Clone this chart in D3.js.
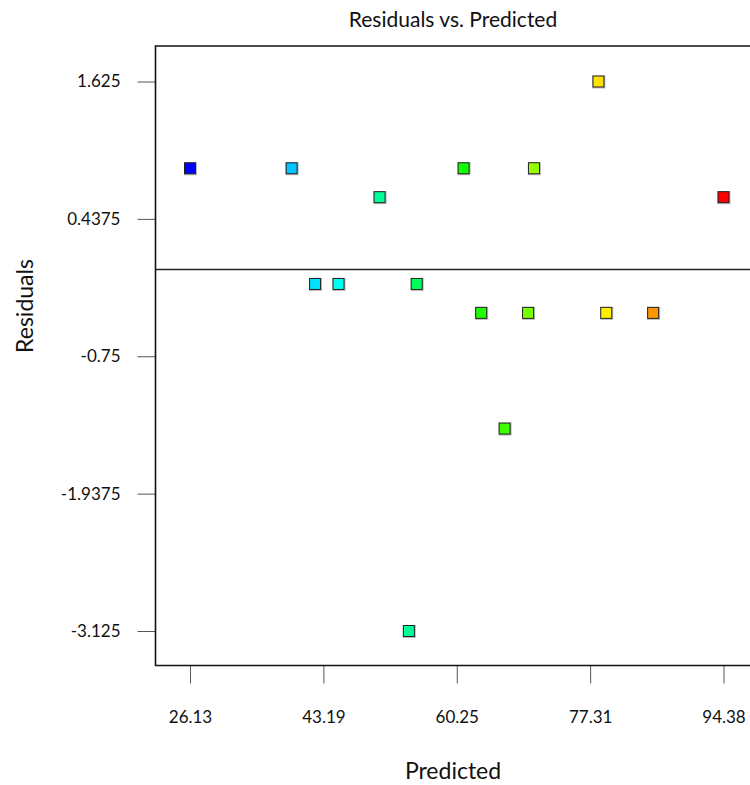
<!DOCTYPE html>
<html>
<head>
<meta charset="utf-8">
<script src="https://cdn.jsdelivr.net/npm/d3@7"></script>
<style>
    body { margin: 0; background: #fff; }
    svg { display: block; font-family: Lato, 'Open Sans', sans-serif; }
</style>
</head>
<body>
<svg id="chart" width="750" height="785"></svg>
<script>
// Predicted values and their residuals (design-expert style diagnostic plot)
const predicted = [26.125, 39.125, 42.125, 45.125, 50.375, 54.125, 55.125, 61.125,
                   63.375, 66.375, 69.375, 70.125, 78.375, 79.375, 85.375, 94.375];
const residuals = [0.875, 0.875, -0.125, -0.125, 0.625, -3.125, -0.125, 0.875,
                   -0.375, -1.375, -0.375, 0.875, 1.625, -0.375, -0.375, 0.625];
const xTicks = [26.125, 43.1875, 60.25, 77.3125, 94.375];
const xTickLabels = ['26.13', '43.19', '60.25', '77.31', '94.38'];
const yTicks = [1.625, 0.4375, -0.75, -1.9375, -3.125];
const yTickLabels = ['1.625', '0.4375', '-0.75', '-1.9375', '-3.125'];
const colorStops = ['#0000ff', '#00ffff', '#00ff00', '#ffff00', '#ff0000'];

document.addEventListener('DOMContentLoaded', () => {
    'use strict';

    let svg = d3.select('#chart'),
        frame = {left: 155.5, top: 46, right: 758, bottom: 665.5},
        pad = 34.5;

    let x = d3.scaleLinear()
        .domain([xTicks[0], xTicks[xTicks.length - 1]])
        .range([frame.left + pad, frame.right - pad]);

    let y = d3.scaleLinear()
        .domain([yTicks[yTicks.length - 1], yTicks[0]])
        .range([frame.bottom - pad, frame.top + 35.5]);

    // colour by actual response (predicted + residual)
    let actual = predicted.map((p, i) => p + residuals[i]),
        aMin = d3.min(actual), aMax = d3.max(actual);
    let color = d3.scaleLinear()
        .domain(d3.range(5).map(i => aMin + i * (aMax - aMin) / 4))
        .range(colorStops);

    // axes
    let xAxis = svg.append('g')
        .attr('transform', 'translate(0,' + frame.bottom + ')')
        .call(d3.axisBottom(x).tickValues(xTicks).tickSize(18).tickPadding(27)
            .tickFormat((d, i) => xTickLabels[i]));
    xAxis.select('.domain').remove();

    let yAxis = svg.append('g')
        .attr('transform', 'translate(' + frame.left + ',0)')
        .call(d3.axisLeft(y).tickValues(yTicks).tickSize(18).tickPadding(17)
            .tickFormat((d, i) => yTickLabels[i]));
    yAxis.select('.domain').remove();

    svg.selectAll('g.tick').select('line').attr('stroke', '#555').attr('stroke-width', 1);
    svg.selectAll('g.tick').select('text')
        .attr('fill', '#111')
        .style('font-family', 'Lato, sans-serif')
        .style('font-size', '17px');

    // frame (open on the right where it runs out of the window)
    svg.append('path')
        .attr('d', 'M' + frame.right + ',' + frame.top + 'H' + frame.left +
                   'V' + frame.bottom + 'H' + frame.right)
        .attr('fill', 'none')
        .attr('stroke', '#111')
        .attr('stroke-width', 1.6);

    // zero line
    svg.append('line')
        .attr('x1', frame.left).attr('x2', frame.right)
        .attr('y1', y(0)).attr('y2', y(0))
        .attr('stroke', '#222')
        .attr('stroke-width', 1.6);

    // points
    let size = 11;
    let pts = svg.append('g').selectAll('g')
        .data(predicted)
      .enter().append('g')
        .attr('transform', (d, i) => 'translate(' + x(d) + ',' + y(residuals[i]) + ')');

    pts.append('rect')
        .attr('x', -size / 2 - 0.5).attr('y', -size / 2 - 0.5)
        .attr('width', size + 2).attr('height', size + 2)
        .attr('fill', '#bbb');

    pts.append('rect')
        .attr('x', -size / 2).attr('y', -size / 2)
        .attr('width', size).attr('height', size)
        .attr('fill', (d, i) => color(actual[i]))
        .attr('stroke', '#222')
        .attr('stroke-width', 1);

    // titles
    svg.append('text')
        .attr('x', 453).attr('y', 27)
        .attr('text-anchor', 'middle')
        .style('font-size', '21px')
        .attr('fill', '#111')
        .text('Residuals vs. Predicted');

    svg.append('text')
        .attr('x', 453).attr('y', 779)
        .attr('text-anchor', 'middle')
        .style('font-size', '23px')
        .attr('fill', '#111')
        .text('Predicted');

    svg.append('text')
        .attr('transform', 'translate(33,306) rotate(-90)')
        .attr('text-anchor', 'middle')
        .style('font-size', '23px')
        .attr('fill', '#111')
        .text('Residuals');
});
</script>
</body>
</html>
